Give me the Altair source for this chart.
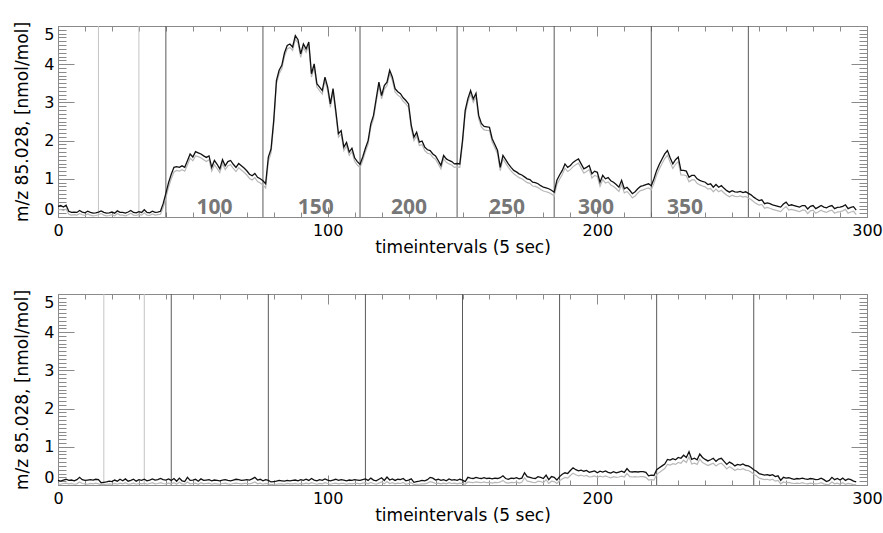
import altair as alt
import pandas as pd

# ---------------- data ----------------
top_black = [
    0.28, 0.30, 0.26, 0.31, 0.15, 0.12, 0.13, 0.12, 0.17, 0.13,
    0.11, 0.15, 0.12, 0.10, 0.11, 0.13, 0.16, 0.12, 0.10, 0.11,
    0.13, 0.10, 0.16, 0.12, 0.12, 0.10, 0.13, 0.17, 0.12, 0.11,
    0.14, 0.12, 0.19, 0.12, 0.11, 0.15, 0.12, 0.13, 0.15, 0.35,
    0.62, 0.90, 1.12, 1.30, 1.32, 1.30, 1.34, 1.30, 1.47, 1.65,
    1.57, 1.71, 1.68, 1.65, 1.60, 1.56, 1.60, 1.30, 1.48, 1.38,
    1.26, 1.50, 1.34, 1.45, 1.48, 1.38, 1.30, 1.40, 1.34, 1.28,
    1.21, 1.12, 1.08, 1.14, 1.04, 1.00, 0.95, 0.87, 1.57, 1.78,
    2.53, 3.57, 3.84, 3.97, 4.30, 4.49, 4.53, 4.45, 4.75, 4.64,
    4.27, 4.53, 4.40, 4.58, 3.75, 4.01, 3.49, 3.40, 3.31, 3.66,
    3.40, 2.96, 3.36, 2.79, 2.18, 2.26, 1.83, 1.95, 1.70, 1.80,
    1.55, 1.45, 1.38, 1.57, 1.80, 2.00, 2.44, 2.66, 3.10, 3.53,
    3.18, 3.44, 3.53, 3.84, 3.66, 3.36, 3.28, 3.23, 3.12, 3.05,
    2.96, 2.40, 2.09, 2.22, 1.96, 1.99, 1.83, 1.76, 1.74, 1.65,
    1.60, 1.48, 1.35, 1.61, 1.52, 1.48, 1.45, 1.39, 1.40, 1.39,
    2.00, 2.79, 3.10, 3.31, 3.09, 3.24, 2.66, 2.45, 2.37, 2.36,
    2.35, 2.05, 1.90, 1.74, 1.30, 1.61, 1.50, 1.39, 1.30, 1.22,
    1.18, 1.13, 1.10, 1.05, 1.00, 0.98, 0.91, 0.90, 0.87, 0.82,
    0.78, 0.76, 0.74, 0.70, 0.65, 0.96, 1.10, 1.22, 1.39, 1.30,
    1.35, 1.43, 1.48, 1.52, 1.39, 1.26, 1.30, 1.35, 1.13, 1.20,
    1.17, 0.91, 1.09, 1.00, 1.03, 0.95, 0.91, 0.85, 0.78, 0.96,
    0.74, 0.78, 0.70, 0.61, 0.66, 0.74, 0.80, 0.82, 0.85, 0.87,
    0.82, 1.00, 1.22, 1.38, 1.52, 1.65, 1.74, 1.55, 1.39, 1.50,
    1.57, 1.22, 1.22, 1.20, 1.04, 1.09, 1.09, 1.00, 0.96, 0.93,
    0.91, 0.85, 0.87, 0.78, 0.85, 0.78, 0.82, 0.75, 0.69, 0.65,
    0.69, 0.66, 0.65, 0.67, 0.64, 0.66, 0.62, 0.58, 0.52, 0.47,
    0.43, 0.45, 0.35, 0.37, 0.35, 0.32, 0.30, 0.28, 0.26, 0.34,
    0.39, 0.30, 0.32, 0.30, 0.28, 0.26, 0.30, 0.30, 0.21, 0.28,
    0.30, 0.22, 0.26, 0.30, 0.26, 0.24, 0.28, 0.30, 0.22, 0.25,
    0.26, 0.28, 0.32, 0.22, 0.25, 0.27, 0.18,
]
top_grey = [
    0.18, 0.20, 0.17, 0.21, 0.07, 0.05, 0.06, 0.05, 0.09, 0.06,
    0.04, 0.08, 0.05, 0.03, 0.04, 0.06, 0.09, 0.05, 0.03, 0.04,
    0.06, 0.03, 0.09, 0.05, 0.05, 0.03, 0.06, 0.10, 0.05, 0.04,
    0.07, 0.05, 0.11, 0.05, 0.04, 0.08, 0.05, 0.06, 0.07, 0.25,
    0.50, 0.78, 1.00, 1.18, 1.22, 1.20, 1.24, 1.20, 1.36, 1.54,
    1.47, 1.60, 1.58, 1.55, 1.50, 1.45, 1.50, 1.20, 1.37, 1.27,
    1.16, 1.40, 1.24, 1.34, 1.37, 1.27, 1.19, 1.29, 1.23, 1.17,
    1.10, 1.01, 0.97, 1.03, 0.93, 0.89, 0.84, 0.76, 1.45, 1.68,
    2.43, 3.48, 3.75, 3.88, 4.21, 4.40, 4.44, 4.36, 4.66, 4.55,
    4.18, 4.44, 4.31, 4.49, 3.66, 3.92, 3.40, 3.31, 3.22, 3.57,
    3.31, 2.87, 3.27, 2.70, 2.09, 2.17, 1.74, 1.86, 1.61, 1.71,
    1.46, 1.36, 1.29, 1.48, 1.71, 1.91, 2.35, 2.57, 3.01, 3.44,
    3.09, 3.35, 3.44, 3.75, 3.57, 3.27, 3.19, 3.14, 3.03, 2.96,
    2.87, 2.31, 2.00, 2.13, 1.87, 1.90, 1.74, 1.67, 1.65, 1.56,
    1.51, 1.39, 1.26, 1.52, 1.43, 1.39, 1.36, 1.30, 1.31, 1.30,
    1.91, 2.70, 3.01, 3.22, 3.00, 3.15, 2.57, 2.36, 2.28, 2.27,
    2.26, 1.96, 1.81, 1.65, 1.21, 1.52, 1.41, 1.30, 1.21, 1.13,
    1.08, 1.03, 1.00, 0.95, 0.90, 0.88, 0.81, 0.80, 0.77, 0.72,
    0.68, 0.66, 0.64, 0.60, 0.55, 0.85, 0.99, 1.11, 1.28, 1.19,
    1.24, 1.32, 1.37, 1.41, 1.28, 1.15, 1.19, 1.24, 1.02, 1.09,
    1.06, 0.80, 0.98, 0.89, 0.92, 0.84, 0.80, 0.74, 0.67, 0.85,
    0.63, 0.67, 0.59, 0.50, 0.55, 0.63, 0.69, 0.71, 0.74, 0.76,
    0.71, 0.88, 1.10, 1.26, 1.40, 1.53, 1.62, 1.43, 1.27, 1.38,
    1.45, 1.10, 1.10, 1.08, 0.92, 0.97, 0.97, 0.88, 0.84, 0.81,
    0.79, 0.73, 0.75, 0.66, 0.73, 0.66, 0.70, 0.63, 0.57, 0.53,
    0.57, 0.54, 0.53, 0.55, 0.52, 0.54, 0.50, 0.46, 0.40, 0.35,
    0.31, 0.33, 0.23, 0.25, 0.23, 0.20, 0.18, 0.16, 0.14, 0.22,
    0.27, 0.18, 0.20, 0.18, 0.16, 0.14, 0.18, 0.18, 0.09, 0.16,
    0.18, 0.10, 0.14, 0.18, 0.14, 0.12, 0.16, 0.18, 0.10, 0.13,
    0.14, 0.16, 0.20, 0.10, 0.13, 0.15, 0.06,
]
bottom_black = [
    0.12, 0.10, 0.13, 0.15, 0.12, 0.13, 0.11, 0.14, 0.20, 0.14,
    0.12, 0.13, 0.14, 0.13, 0.15, 0.14, 0.06, 0.07, 0.08, 0.10,
    0.09, 0.13, 0.10, 0.15, 0.11, 0.16, 0.10, 0.12, 0.15, 0.10,
    0.14, 0.12, 0.15, 0.11, 0.13, 0.16, 0.13, 0.14, 0.17, 0.14,
    0.13, 0.16, 0.12, 0.17, 0.10, 0.18, 0.11, 0.09, 0.20, 0.12,
    0.13, 0.15, 0.10, 0.16, 0.12, 0.13, 0.14, 0.11, 0.13, 0.12,
    0.11, 0.13, 0.14, 0.12, 0.11, 0.13, 0.15, 0.14, 0.12, 0.13,
    0.14, 0.13, 0.16, 0.20, 0.13, 0.15, 0.11, 0.14, 0.12, 0.08,
    0.09, 0.10, 0.12, 0.11, 0.10, 0.12, 0.11, 0.12, 0.13, 0.11,
    0.14, 0.12, 0.15, 0.12, 0.17, 0.13, 0.11, 0.14, 0.12, 0.16,
    0.13, 0.11, 0.13, 0.15, 0.12, 0.14, 0.13, 0.11, 0.13, 0.12,
    0.14, 0.13, 0.12, 0.14, 0.16, 0.12, 0.18, 0.13, 0.11, 0.15,
    0.19, 0.12, 0.21, 0.13, 0.16, 0.12, 0.15, 0.14, 0.17, 0.11,
    0.13, 0.16, 0.07, 0.09, 0.10, 0.12, 0.11, 0.14, 0.20, 0.18,
    0.13, 0.15, 0.12, 0.14, 0.11, 0.16, 0.13, 0.14, 0.12, 0.15,
    0.13, 0.09, 0.20, 0.18, 0.17, 0.20, 0.18, 0.17, 0.19, 0.17,
    0.18, 0.16, 0.18, 0.17, 0.19, 0.24, 0.17, 0.15, 0.18, 0.17,
    0.19, 0.16, 0.18, 0.32, 0.22, 0.20, 0.18, 0.17, 0.22, 0.20,
    0.17, 0.26, 0.14, 0.22, 0.20, 0.13, 0.22, 0.28, 0.32, 0.30,
    0.38, 0.45, 0.40, 0.37, 0.39, 0.36, 0.38, 0.33, 0.35, 0.37,
    0.32, 0.36, 0.34, 0.37, 0.33, 0.31, 0.35, 0.32, 0.34, 0.36,
    0.33, 0.43, 0.35, 0.34, 0.35, 0.34, 0.35, 0.35, 0.33, 0.24,
    0.26, 0.25, 0.40, 0.45, 0.50, 0.55, 0.67, 0.65, 0.69, 0.66,
    0.72, 0.70, 0.78, 0.72, 0.87, 0.67, 0.70, 0.66, 0.81, 0.72,
    0.67, 0.63, 0.66, 0.70, 0.62, 0.68, 0.70, 0.62, 0.54, 0.60,
    0.56, 0.50, 0.54, 0.52, 0.55, 0.51, 0.50, 0.46, 0.40, 0.36,
    0.30, 0.28, 0.26, 0.27, 0.25, 0.27, 0.22, 0.24, 0.12, 0.20,
    0.18, 0.19, 0.17, 0.15, 0.17, 0.16, 0.18, 0.16, 0.15, 0.17,
    0.16, 0.14, 0.15, 0.18, 0.14, 0.09, 0.12, 0.20, 0.14, 0.17,
    0.13, 0.18, 0.12, 0.16, 0.14, 0.10, 0.08,
]
bottom_grey = [
    0.03, 0.02, 0.04, 0.05, 0.03, 0.04, 0.02, 0.03, 0.08, 0.04,
    0.03, 0.02, 0.04, 0.03, 0.05, 0.03, 0.01, 0.01, 0.02, 0.03,
    0.02, 0.04, 0.02, 0.05, 0.03, 0.06, 0.02, 0.03, 0.05, 0.02,
    0.04, 0.03, 0.05, 0.02, 0.04, 0.06, 0.03, 0.04, 0.06, 0.04,
    0.03, 0.05, 0.03, 0.06, 0.02, 0.07, 0.03, 0.02, 0.08, 0.03,
    0.04, 0.05, 0.02, 0.06, 0.03, 0.04, 0.05, 0.02, 0.04, 0.03,
    0.02, 0.04, 0.05, 0.03, 0.02, 0.04, 0.05, 0.04, 0.03, 0.04,
    0.04, 0.03, 0.05, 0.08, 0.03, 0.05, 0.02, 0.04, 0.03, 0.01,
    0.02, 0.02, 0.03, 0.03, 0.02, 0.04, 0.03, 0.03, 0.04, 0.02,
    0.04, 0.03, 0.05, 0.03, 0.06, 0.04, 0.02, 0.04, 0.03, 0.06,
    0.04, 0.02, 0.04, 0.05, 0.03, 0.04, 0.04, 0.02, 0.04, 0.03,
    0.04, 0.04, 0.03, 0.05, 0.06, 0.03, 0.07, 0.04, 0.02, 0.05,
    0.08, 0.03, 0.09, 0.04, 0.06, 0.03, 0.05, 0.04, 0.07, 0.02,
    0.04, 0.06, 0.01, 0.02, 0.02, 0.03, 0.03, 0.05, 0.09, 0.07,
    0.04, 0.05, 0.03, 0.05, 0.03, 0.06, 0.04, 0.05, 0.03, 0.05,
    0.04, 0.02, 0.08, 0.07, 0.06, 0.08, 0.07, 0.06, 0.08, 0.06,
    0.07, 0.05, 0.07, 0.06, 0.08, 0.12, 0.06, 0.05, 0.07, 0.06,
    0.08, 0.05, 0.07, 0.19, 0.10, 0.09, 0.07, 0.06, 0.10, 0.09,
    0.06, 0.14, 0.04, 0.10, 0.09, 0.04, 0.11, 0.16, 0.20, 0.18,
    0.25, 0.31, 0.27, 0.24, 0.26, 0.23, 0.25, 0.21, 0.22, 0.24,
    0.20, 0.23, 0.21, 0.24, 0.21, 0.19, 0.22, 0.20, 0.21, 0.23,
    0.21, 0.30, 0.22, 0.21, 0.22, 0.21, 0.22, 0.22, 0.20, 0.13,
    0.14, 0.13, 0.27, 0.33, 0.38, 0.43, 0.54, 0.52, 0.56, 0.54,
    0.59, 0.57, 0.65, 0.59, 0.74, 0.55, 0.57, 0.54, 0.68, 0.59,
    0.55, 0.51, 0.54, 0.57, 0.50, 0.55, 0.57, 0.50, 0.42, 0.48,
    0.44, 0.38, 0.42, 0.40, 0.43, 0.39, 0.38, 0.34, 0.28, 0.24,
    0.18, 0.16, 0.14, 0.15, 0.13, 0.15, 0.10, 0.12, 0.03, 0.08,
    0.06, 0.07, 0.05, 0.04, 0.05, 0.04, 0.06, 0.04, 0.03, 0.05,
    0.04, 0.03, 0.04, 0.06, 0.03, 0.01, 0.02, 0.08, 0.03, 0.05,
    0.02, 0.06, 0.02, 0.04, 0.03, 0.01, 0.01,
]

top_light_lines = [15, 30]
top_dark_lines = [40, 76, 112, 148, 184, 220, 256]
bottom_light_lines = [17, 32]
bottom_dark_lines = [42, 78, 114, 150, 186, 222, 258]

label_texts = ["100", "150", "200", "250", "300", "350"]
label_x = [58, 95.6, 130.2, 166.5, 199.5, 232.5]
label_y = [0.08, 0.08, 0.08, 0.08, 0.08, 0.08]

x_major = [0, 100, 200, 300]
y_major = [0, 1, 2, 3, 4, 5]
x_minor = list(range(0, 301, 10))
y_minor = [round(i * 0.1, 1) for i in range(51)]

# ---------------- styling ----------------
W, H = 809, 191
FONT = "DejaVu Sans"
TICK_COLOR = "#8a8a8a"

xs = alt.Scale(domain=[0, 300], nice=False, zero=False)
ys = alt.Scale(domain=[0, 5], nice=False, zero=False)


def tick_axis(orient, values, size):
    return alt.Axis(orient=orient, values=values, ticks=True, tickSize=size,
                    offset=-size, labels=False, domain=False, grid=False,
                    title=None, tickColor=TICK_COLOR, tickWidth=1)


def panel(black, grey, light, dark, with_labels):
    df = pd.DataFrame({"t": list(range(len(black))), "black": black, "grey": grey})
    base = alt.Chart(df)

    light_rules = alt.Chart(pd.DataFrame({"x": light})).mark_rule(
        color="#c4c4c4", strokeWidth=1).encode(x=alt.X("x:Q", scale=xs, axis=None))
    dark_rules = alt.Chart(pd.DataFrame({"x": dark})).mark_rule(
        color="#5a5a5a", strokeWidth=1).encode(x=alt.X("x:Q", scale=xs, axis=None))

    grey_line = base.mark_line(color="#b8b8b8", strokeWidth=1.2).encode(
        x=alt.X("t:Q", scale=xs, axis=alt.Axis(
            orient="bottom", values=x_major, title="timeintervals (5 sec)",
            ticks=False, tickSize=0, domain=False, grid=False, labelFlush=False,
            labelPadding=5, titlePadding=1, labelFontSize=16, titleFontSize=17,
            labelFont=FONT, titleFont=FONT, titleFontWeight="normal",
            labelColor="#000000", titleColor="#000000")),
        y=alt.Y("grey:Q", scale=ys, axis=alt.Axis(
            orient="left", values=y_major, title="m/z 85.028, [nmol/mol]",
            ticks=False, tickSize=0, domain=False, grid=False, labelFlush=True,
            labelPadding=4, titlePadding=12, labelFontSize=16, titleFontSize=17,
            labelFont=FONT, titleFont=FONT, titleFontWeight="normal",
            labelColor="#000000", titleColor="#000000")),
    )
    black_line = base.mark_line(color="#111111", strokeWidth=1.3).encode(
        x=alt.X("t:Q", scale=xs, axis=None),
        y=alt.Y("black:Q", scale=ys, axis=None),
    )

    pts = base.mark_point(opacity=0, size=1)
    t1 = pts.encode(x=alt.X("t:Q", scale=xs, axis=tick_axis("bottom", x_minor, 5)),
                    y=alt.Y("black:Q", scale=ys, axis=tick_axis("left", y_minor, 8)))
    t2 = pts.encode(x=alt.X("t:Q", scale=xs, axis=tick_axis("bottom", x_major, 10)),
                    y=alt.Y("black:Q", scale=ys, axis=tick_axis("left", y_major, 16)))
    t3 = pts.encode(x=alt.X("t:Q", scale=xs, axis=tick_axis("top", x_minor, 5)),
                    y=alt.Y("black:Q", scale=ys, axis=tick_axis("right", y_minor, 8)))
    t4 = pts.encode(x=alt.X("t:Q", scale=xs, axis=tick_axis("top", x_major, 10)),
                    y=alt.Y("black:Q", scale=ys, axis=tick_axis("right", y_major, 16)))

    layers = [light_rules, dark_rules, grey_line, black_line, t1, t2, t3, t4]
    if with_labels:
        ldf = pd.DataFrame({"x": label_x, "y": label_y, "label": label_texts})
        text = alt.Chart(ldf).mark_text(
            font="Noto Sans", fontWeight="bold", fontSize=21, color="#777777",
            baseline="alphabetic", align="center").encode(
            x=alt.X("x:Q", scale=xs, axis=None),
            y=alt.Y("y:Q", scale=ys, axis=None),
            text="label:N")
        layers.append(text)

    return alt.layer(*layers).resolve_axis(x="independent", y="independent").properties(
        width=W, height=H)


top = panel(top_black, top_grey, top_light_lines, top_dark_lines, True)
bottom = panel(bottom_black, bottom_grey, bottom_light_lines, bottom_dark_lines, False)

chart = alt.vconcat(top, bottom, spacing=77, bounds="flush").configure_view(
    stroke="#8a8a8a", strokeWidth=1).properties(
    padding={"left": 13, "top": 20, "right": 0, "bottom": 2}, background="white")

chart.save("out.html", embed_options={"renderer": "svg", "actions": False})
